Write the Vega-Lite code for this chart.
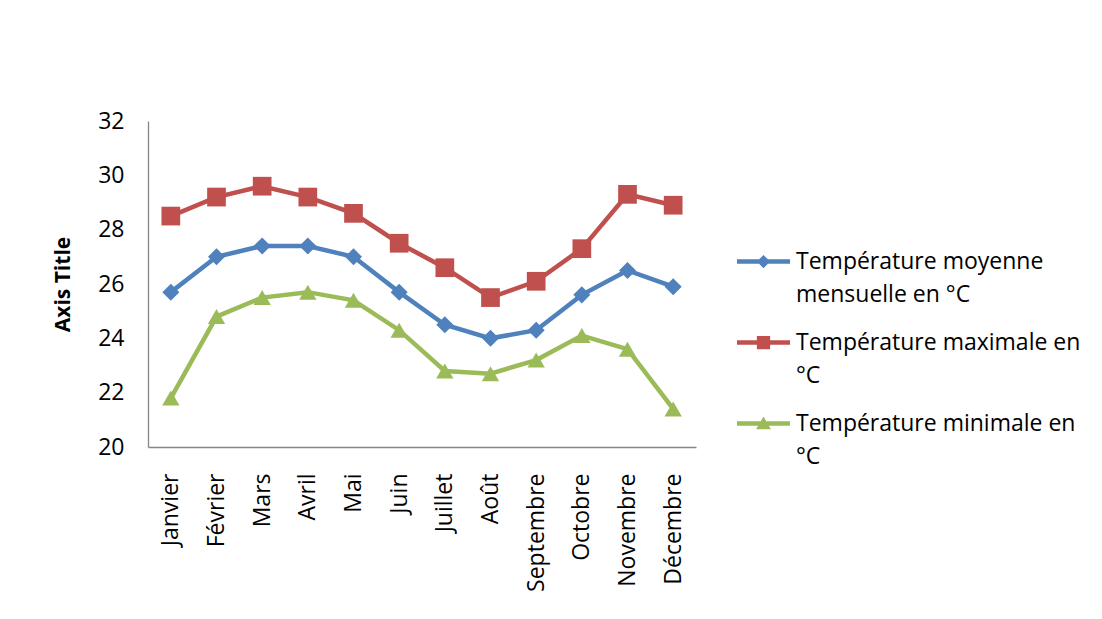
{
  "$schema": "https://vega.github.io/schema/vega-lite/v6.json",
  "autosize": {"type": "none"},
  "width": 548,
  "height": 326,
  "padding": {"left": 148, "top": 121, "right": 406, "bottom": 172},
  "background": "white",
  "config": {
    "view": {"stroke": null},
    "font": "Open Sans",
    "axis": {"labelFont": "Open Sans", "titleFont": "Open Sans", "labelColor": "#000000", "titleColor": "#000000", "domainColor": "#868686", "domainWidth": 1.3, "ticks": false, "grid": false}
  },
  "data": {
    "values": [
      {"mois": "Janvier", "serie": "Température moyenne mensuelle en °C", "temp": 25.7},
      {"mois": "Février", "serie": "Température moyenne mensuelle en °C", "temp": 27.0},
      {"mois": "Mars", "serie": "Température moyenne mensuelle en °C", "temp": 27.4},
      {"mois": "Avril", "serie": "Température moyenne mensuelle en °C", "temp": 27.4},
      {"mois": "Mai", "serie": "Température moyenne mensuelle en °C", "temp": 27.0},
      {"mois": "Juin", "serie": "Température moyenne mensuelle en °C", "temp": 25.7},
      {"mois": "Juillet", "serie": "Température moyenne mensuelle en °C", "temp": 24.5},
      {"mois": "Août", "serie": "Température moyenne mensuelle en °C", "temp": 24.0},
      {"mois": "Septembre", "serie": "Température moyenne mensuelle en °C", "temp": 24.3},
      {"mois": "Octobre", "serie": "Température moyenne mensuelle en °C", "temp": 25.6},
      {"mois": "Novembre", "serie": "Température moyenne mensuelle en °C", "temp": 26.5},
      {"mois": "Décembre", "serie": "Température moyenne mensuelle en °C", "temp": 25.9},
      {"mois": "Janvier", "serie": "Température maximale en °C", "temp": 28.5},
      {"mois": "Février", "serie": "Température maximale en °C", "temp": 29.2},
      {"mois": "Mars", "serie": "Température maximale en °C", "temp": 29.6},
      {"mois": "Avril", "serie": "Température maximale en °C", "temp": 29.2},
      {"mois": "Mai", "serie": "Température maximale en °C", "temp": 28.6},
      {"mois": "Juin", "serie": "Température maximale en °C", "temp": 27.5},
      {"mois": "Juillet", "serie": "Température maximale en °C", "temp": 26.6},
      {"mois": "Août", "serie": "Température maximale en °C", "temp": 25.5},
      {"mois": "Septembre", "serie": "Température maximale en °C", "temp": 26.1},
      {"mois": "Octobre", "serie": "Température maximale en °C", "temp": 27.3},
      {"mois": "Novembre", "serie": "Température maximale en °C", "temp": 29.3},
      {"mois": "Décembre", "serie": "Température maximale en °C", "temp": 28.9},
      {"mois": "Janvier", "serie": "Température minimale en °C", "temp": 21.8},
      {"mois": "Février", "serie": "Température minimale en °C", "temp": 24.8},
      {"mois": "Mars", "serie": "Température minimale en °C", "temp": 25.5},
      {"mois": "Avril", "serie": "Température minimale en °C", "temp": 25.7},
      {"mois": "Mai", "serie": "Température minimale en °C", "temp": 25.4},
      {"mois": "Juin", "serie": "Température minimale en °C", "temp": 24.3},
      {"mois": "Juillet", "serie": "Température minimale en °C", "temp": 22.8},
      {"mois": "Août", "serie": "Température minimale en °C", "temp": 22.7},
      {"mois": "Septembre", "serie": "Température minimale en °C", "temp": 23.2},
      {"mois": "Octobre", "serie": "Température minimale en °C", "temp": 24.1},
      {"mois": "Novembre", "serie": "Température minimale en °C", "temp": 23.6},
      {"mois": "Décembre", "serie": "Température minimale en °C", "temp": 21.4}
    ]
  },
  "encoding": {
    "x": {
      "field": "mois", "type": "nominal", "sort": null,
      "scale": {"type": "point", "padding": 0.5},
      "axis": {"title": null, "labelAngle": -90, "labelAlign": "right", "labelBaseline": "middle", "labelFontSize": 23, "labelPadding": 26}
    },
    "y": {
      "field": "temp", "type": "quantitative",
      "scale": {"domain": [20, 32], "nice": false, "zero": false},
      "axis": {"title": "Axis Title", "values": [20, 22, 24, 26, 28, 30, 32], "labelFontSize": 23, "labelPadding": 24, "titleFontSize": 21, "titleFontWeight": "bold", "titlePadding": 24}
    }
  },
  "layer": [
    {
      "mark": {"type": "line", "strokeWidth": 4.5},
      "encoding": {
        "color": {
          "field": "serie", "type": "nominal",
          "scale": {"domain": ["Température moyenne mensuelle en °C", "Température maximale en °C", "Température minimale en °C"], "range": ["#4F81BD", "#C0504D", "#9BBB59"]},
          "legend": {
            "title": null, "orient": "none", "legendX": 589, "legendY": 114,
            "symbolSize": 2809, "labelFontSize": 23, "labelFont": "Open Sans", "labelColor": "#000000",
            "labelOffset": 6, "labelLimit": 400, "rowPadding": 9, "labelBaseline": "middle",
            "labelExpr": "datum.label == 'Température moyenne mensuelle en °C' ? ['Température moyenne', 'mensuelle en °C'] : datum.label == 'Température maximale en °C' ? ['Température maximale en', '°C'] : ['Température minimale en', '°C']",
            "encode": {
              "symbols": {"update": {
                "shape": {"signal": "datum.value == 'Température moyenne mensuelle en °C' ? 'M-1,-0.085H1V0.085H-1Z M0,-0.25L0.25,0L0,0.25L-0.25,0Z' : datum.value == 'Température maximale en °C' ? 'M-1,-0.085H1V0.085H-1Z M-0.25,-0.25H0.25V0.25H-0.25Z' : 'M-1,-0.085H1V0.085H-1Z M0,-0.26L0.28,0.22L-0.28,0.22Z'"},
                "fill": {"signal": "scale('color', datum.value)"},
                "fillOpacity": {"value": 1},
                "strokeWidth": {"value": 0},
                "opacity": {"value": 1}
              }},
              "labels": {"update": {"lineHeight": {"value": 33}}}
            }
          }
        }
      }
    },
    {
      "transform": [{"filter": "datum.serie == 'Température moyenne mensuelle en °C'"}],
      "mark": {"type": "point", "filled": true, "opacity": 1, "size": 290, "shape": "diamond", "color": "#4F81BD"}
    },
    {
      "transform": [{"filter": "datum.serie == 'Température maximale en °C'"}],
      "mark": {"type": "point", "filled": true, "opacity": 1, "size": 350, "shape": "square", "color": "#C0504D"}
    },
    {
      "transform": [{"filter": "datum.serie == 'Température minimale en °C'"}],
      "mark": {"type": "point", "filled": true, "opacity": 1, "size": 300, "shape": "triangle-up", "color": "#9BBB59"}
    }
  ]
}
